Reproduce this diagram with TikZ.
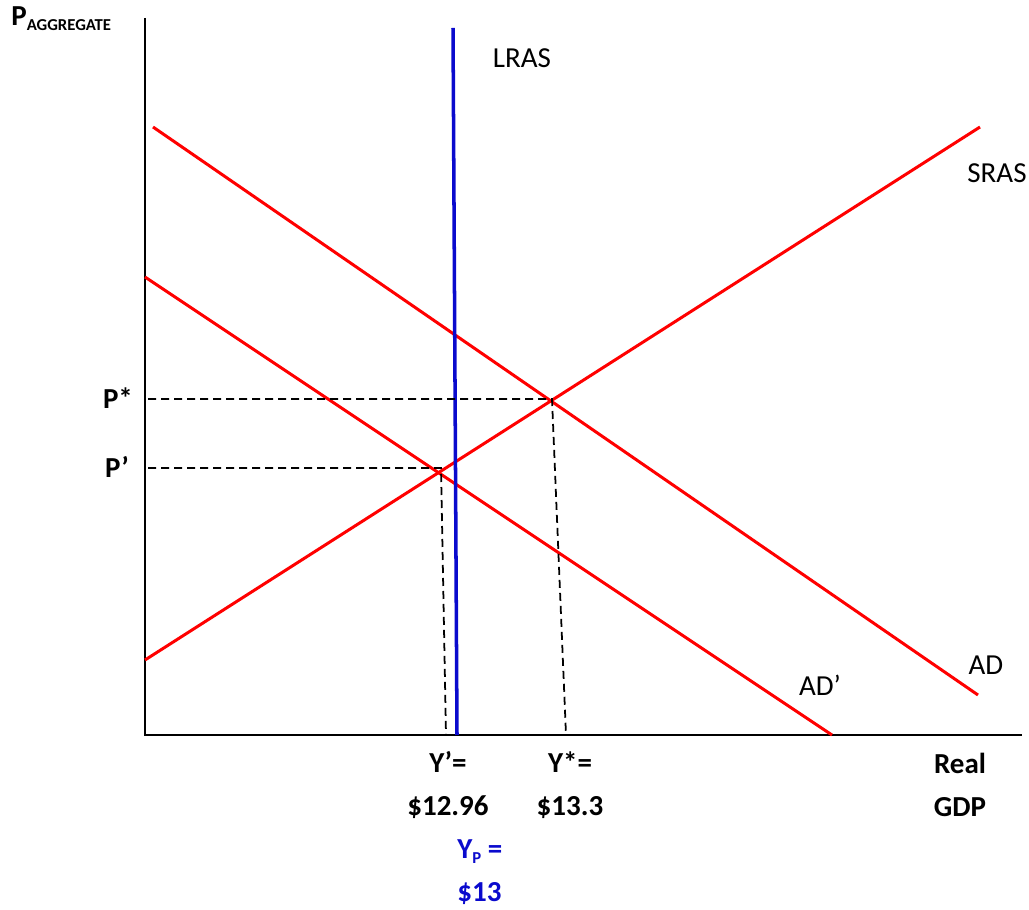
\documentclass[tikz,border=0pt]{standalone}
\usepackage{fontspec}
\setmainfont{Carlito}
\definecolor{CurveRed}{RGB}{255, 0, 0}
\definecolor{PotBlue}{RGB}{10, 10, 205}
\usepackage{tikz}
\usetikzlibrary{positioning, calc}

\newcommand{\subtxt}[1]{\raisebox{-0.18em}{\fontsize{9.5}{10}\selectfont #1}}

\begin{document}
\begin{tikzpicture}[
    every node/.style={font=\fontsize{16.5}{24.4}\selectfont, align=center, inner sep=0pt},
    axis/.style={draw=black, line width=1.1pt},
    curve/.style={draw=CurveRed, line width=1.7pt},
    guide/.style={draw=black, line width=1pt, dash pattern=on 0.16cm off 0.1cm},
    val/.style={font=\fontsize{16.5}{24.4}\selectfont\bfseries}
]
\useasboundingbox (0,0) rectangle (20.58,18.18);

% axes
\coordinate (O) at (2.90,3.48);
\coordinate (ytop) at (2.90,17.82);
\coordinate (xend) at (20.44,3.48);
\draw[axis] (ytop) -- (O) -- (xend);

% curves
\coordinate (lrasT) at (9.06,17.62);
\coordinate (lrasB) at (9.14,3.48);
\coordinate (srasA) at (2.90,4.98);
\coordinate (srasB) at (19.60,15.64);
\coordinate (adA) at (3.06,15.64);
\coordinate (adB) at (19.56,4.28);
\coordinate (adpA) at (2.90,12.64);
\coordinate (adpB) at (16.64,3.48);
\draw[curve] (srasA) -- (srasB);
\draw[curve] (adA) -- (adB);
\draw[curve] (adpA) -- (adpB);
\draw[draw=PotBlue, line width=2pt] (lrasT) -- (lrasB);

% equilibria and guides
\coordinate (Estar) at (11.04,10.20);
\coordinate (Eprime) at (8.82,8.82);
\coordinate (Ystar) at (11.32,3.48);
\coordinate (Yprime) at (8.92,3.48);
\draw[guide] ($(Estar -| O)+(0.06,0)$) -- (Estar) -- (Ystar);
\draw[guide] ($(Eprime -| O)+(0.06,0)$) -- (Eprime) -- (Yprime);

% labels
\node[val, anchor=west] (pagg) at (0.22,17.80) {P\subtxt{AGGREGATE}};
\node[val] (pstar) at (2.36,10.22) {P*};
\node[val] (pprime) at (2.34,8.84) {P’};
\node (lras) at (10.44,17.02) {LRAS};
\node (sras) at (19.94,14.72) {SRAS};
\node (ad) at (19.72,4.88) {AD};
\node (adp) at (16.40,4.48) {AD’};
\node[val] (gdp) at (19.20,2.48) {Real\\GDP};
\node[val] (yprime) at (8.96,2.48) {Y’=\\\$12.96};
\node[val] (ystar) at (11.40,2.48) {Y*=\\\$13.3};
\node[val, text=PotBlue, align=left, anchor=west] (ypot) at (9.14,0.74) {Y\subtxt{P} =\\\$13};
\end{tikzpicture}
\end{document}
